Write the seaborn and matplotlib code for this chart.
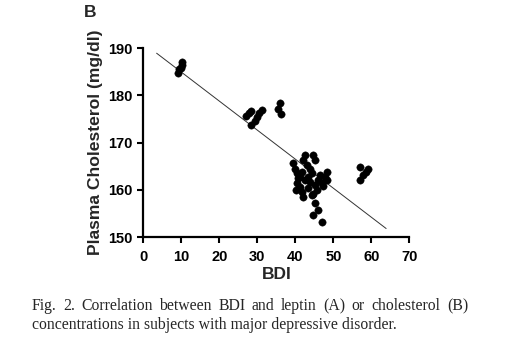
import numpy as np
import pandas as pd
import matplotlib
matplotlib.use("Agg")
import matplotlib.pyplot as plt
import seaborn as sns

# BDI score of each subject
bdi = [
    9.2, 9.5, 10.0, 10.2, 10.3,
    27.0, 27.7, 28.3, 28.3, 29.4, 29.8, 30.5, 31.2, 35.5, 36.0, 36.2,
    39.5, 39.9, 40.4, 40.8, 40.4, 40.2, 41.2, 41.7, 42.1, 42.5, 42.1, 43.0,
    43.9, 44.7, 45.2, 44.3, 43.4, 42.5, 43.9, 45.2, 46.1, 46.5, 47.0, 47.4,
    47.8, 48.3, 48.3, 45.6, 44.7, 41.7, 41.2, 43.4, 44.3, 45.2, 46.1, 44.7,
    47.0,
    57.0, 59.0, 58.6, 57.7, 57.0,
]

# plasma cholesterol (mg/dl) of each subject
cholesterol = [
    184.8, 185.5, 185.8, 186.5, 187.0,
    175.6, 176.2, 176.7, 173.7, 174.6, 175.3, 176.2, 176.9, 177.0, 178.4, 176.0,
    165.6, 164.5, 163.5, 162.4, 161.4, 159.9, 160.6, 159.6, 158.5, 167.4, 166.3, 165.2,
    164.5, 167.4, 166.3, 163.5, 162.8, 162.1, 161.7, 161.0, 162.1, 163.1, 161.4, 160.7,
    162.8, 163.8, 162.1, 160.0, 159.2, 163.8, 162.8, 160.3, 158.9, 157.1, 155.7, 154.7,
    153.2,
    164.9, 164.5, 163.8, 163.1, 162.1,
]

# regression line end points as drawn in the figure
line_bdi = [3.5, 63.9]
line_chol = [188.9, 151.8]

x_ticks = [0, 10, 20, 30, 40, 50, 60, 70]
y_ticks = [150, 160, 170, 180, 190]

caption_lines = [
    "Fig. 2. Correlation between BDI and leptin (A) or cholesterol (B)",
    "concentrations in subjects with major depressive disorder.",
]


def justified_line(fig, words, left, right, y, **kw):
    # place words one by one so the line fills [left, right] (figure px)
    renderer = fig.canvas.get_renderer()
    W = fig.bbox.width
    texts = [fig.text(0, y, w, ha="left", va="baseline", **kw) for w in words]
    widths = [t.get_window_extent(renderer).width for t in texts]
    gap = (right - left - sum(widths)) / (len(words) - 1)
    pos = left
    for t, w in zip(texts, widths):
        t.set_x(pos / W)
        pos += w + gap


def main():
    sns.set_theme(style="ticks")
    plt.rcParams["font.family"] = ["Liberation Sans", "DejaVu Sans"]

    data = pd.DataFrame({"BDI": bdi, "Cholesterol": cholesterol})
    line = pd.DataFrame({"BDI": line_bdi, "Cholesterol": line_chol})

    fig = plt.figure(figsize=(5.05, 3.57), dpi=100)
    ax = fig.add_axes([0.2838, 0.3361, 0.5267, 0.5294])

    # fitted line, thin
    sns.lineplot(data=line, x="BDI", y="Cholesterol", ax=ax, color="#333333", linewidth=0.7)

    # subjects
    sns.scatterplot(data=data, x="BDI", y="Cholesterol", ax=ax, color="black",
                    s=28, edgecolor="black", linewidth=0.3, zorder=3)

    ax.set_xlim(0, 70)
    ax.set_ylim(150, 190)
    ax.set_xticks(x_ticks)
    ax.set_yticks(y_ticks)
    ax.set_xticklabels([str(t) for t in x_ticks], fontweight="bold", fontsize=10.5)
    ax.set_yticklabels([str(t) for t in y_ticks], fontweight="bold", fontsize=10.5)
    ax.tick_params(axis="both", length=4.3, width=1.5, colors="black")
    ax.tick_params(axis="x", pad=5)
    ax.tick_params(axis="y", pad=3.5)

    for side in ["top", "right"]:
        ax.spines[side].set_visible(False)
    for side in ["left", "bottom"]:
        ax.spines[side].set_linewidth(1.6)
        ax.spines[side].set_color("black")

    ax.set_xlabel("BDI", fontsize=12.5, fontweight="bold", labelpad=2)
    ax.set_ylabel("Plasma Cholesterol (mg/dl)", fontsize=12.6, fontweight="bold", labelpad=4)

    # panel letter
    fig.text(0.167, 0.964, "B", fontsize=12.5, fontweight="bold", ha="left", va="center")

    # figure caption underneath, first line justified
    H = fig.bbox.height
    justified_line(fig, caption_lines[0].split(" "), 32, 468, 1 - 310 / H,
                   fontsize=11.3, family="Liberation Serif")
    fig.text(32 / fig.bbox.width, 1 - 329 / H, caption_lines[1], fontsize=11.3,
             family="Liberation Serif", ha="left", va="baseline")

    fig.savefig("out.png", dpi=100)


if __name__ == "__main__":
    main()
